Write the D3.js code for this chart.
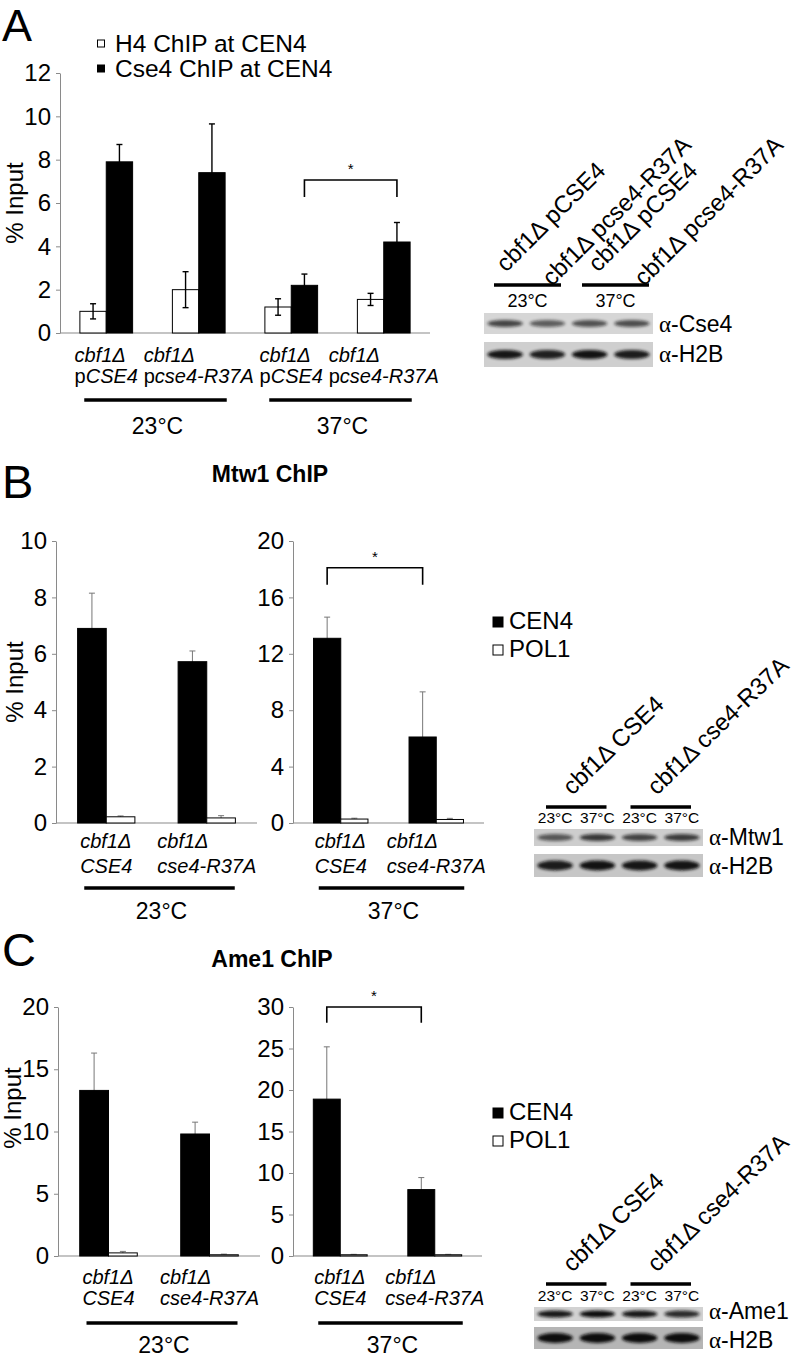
<!DOCTYPE html>
<html>
<head>
<meta charset="utf-8">
<script src="https://cdn.jsdelivr.net/npm/d3@7"></script>
<style>
  body { margin: 0; background: #fff; }
  svg text { font-family: "Liberation Sans", Arial, sans-serif; fill: #000; }
</style>
</head>
<body>
<svg id="fig" width="797" height="1360"></svg>
<script>
// ---- Panel A: H4 / Cse4 ChIP at CEN4 ----
const aGroups = ['pCSE4-23', 'pcse4-R37A-23', 'pCSE4-37', 'pcse4-R37A-37'];
const aLine2 = [['p', 'CSE4'], ['p', 'cse4-R37A'], ['p', 'CSE4'], ['p', 'cse4-R37A']];
const aH4 = [1.0, 2.0, 1.2, 1.55];
const aH4Err = [0.35, 0.83, 0.38, 0.28];
const aCse4 = [7.9, 7.4, 2.2, 4.2];
const aCse4Err = [0.8, 2.25, 0.52, 0.9];
const aTicks = [0, 2, 4, 6, 8, 10, 12];
const aLegend = ['H4 ChIP at CEN4', 'Cse4 ChIP at CEN4'];
const aBlotLabels = ['cbf1Δ pCSE4', 'cbf1Δ pcse4-R37A', 'cbf1Δ pCSE4', 'cbf1Δ pcse4-R37A'];
const aBlotCse4 = [0.72, 0.6, 0.66, 0.68];
const aBlotH2B = [0.95, 0.9, 0.97, 0.92];

// ---- Panel B: Mtw1 ChIP ----
const bGroups = ['CSE4', 'cse4-R37A'];
const bCen4At23 = [6.9, 5.72];
const bCen4At23Err = [1.25, 0.38];
const bPol1At23 = [0.22, 0.18];
const bPol1At23Err = [0.03, 0.08];
const bCen4At37 = [13.1, 6.1];
const bCen4At37Err = [1.5, 3.2];
const bPol1At37 = [0.28, 0.25];
const bPol1At37Err = [0.06, 0.08];
const bTicks23 = [0, 2, 4, 6, 8, 10];
const bTicks37 = [0, 4, 8, 12, 16, 20];
const bBlotMtw1 = [0.62, 0.78, 0.72, 0.76];
const bBlotH2B = [0.92, 0.97, 0.95, 0.96];

// ---- Panel C: Ame1 ChIP ----
const cCen4At23 = [13.3, 9.8];
const cCen4At23Err = [3.0, 0.95];
const cPol1At23 = [0.25, 0.1];
const cPol1At23Err = [0.12, 0.05];
const cCen4At37 = [18.9, 8.0];
const cCen4At37Err = [6.3, 1.45];
const cPol1At37 = [0.15, 0.15];
const cPol1At37Err = [0.05, 0.05];
const cTicks23 = [0, 5, 10, 15, 20];
const cTicks37 = [0, 5, 10, 15, 20, 25, 30];
const cBlotAme1 = [0.95, 1.0, 0.95, 0.85];
const cBlotH2B = [1.0, 1.0, 1.0, 1.0];

const bcLine2 = ['CSE4', 'cse4-R37A'];
const bcBlotLabels = ['cbf1Δ CSE4', 'cbf1Δ cse4-R37A'];
const blotTemps = ['23°C', '37°C', '23°C', '37°C'];
const bcLegend = ['CEN4', 'POL1'];

const svg = d3.select('#fig');

// blur for western blot bands
const defs = svg.append('defs');
defs.append('filter').attr('id', 'blur').attr('x', '-50%').attr('y', '-100%').attr('width', '200%').attr('height', '300%')
  .append('feGaussianBlur').attr('stdDeviation', 1.8);

// text helper: parts = [[text, italic, family], ...]
function addText(g, x, y, parts, o = {}) {
  const t = g.append('text')
    .attr('x', x).attr('y', y)
    .attr('font-size', o.size || 20)
    .attr('text-anchor', o.anchor || 'start');
  if (o.weight) t.attr('font-weight', o.weight);
  if (o.transform) t.attr('transform', o.transform);
  parts.forEach(p => {
    const s = t.append('tspan').text(p[0]);
    if (p[1]) s.attr('font-style', 'italic');
    if (p[2]) s.attr('font-family', p[2]);
  });
  return t;
}

function barChart(g, o) {
  const x = d3.scaleBand().domain(o.groups).range([o.left, o.right])
    .paddingInner(0.43).paddingOuter(0.215);
  const y = d3.scaleLinear().domain([0, o.max]).range([o.bottom, o.top]);
  const sub = d3.scaleBand().domain(d3.range(o.series.length)).range([0, x.bandwidth()]);

  const ay = g.append('g')
    .attr('transform', `translate(${o.left},0)`)
    .call(d3.axisLeft(y).tickValues(o.ticks).tickSize(4).tickSizeOuter(0).tickPadding(5).tickFormat(d3.format('d')));
  ay.select('.domain').attr('stroke', '#8a8a8a');
  ay.selectAll('.tick line').attr('stroke', '#8a8a8a');
  ay.selectAll('.tick text').attr('font-size', 24).attr('font-family', '"Liberation Sans", Arial, sans-serif').attr('fill', '#000');

  g.append('line')
    .attr('x1', o.left).attr('x2', o.right)
    .attr('y1', y(0)).attr('y2', y(0))
    .attr('stroke', '#8a8a8a').attr('stroke-width', 1.2);

  const errG = g.append('g');
  const barG = g.append('g');
  if (!o.errBehind) errG.raise();

  o.series.forEach((s, si) => {
    s.values.forEach((v, i) => {
      const cx = x(o.groups[i]) + sub(si);
      barG.append('rect')
        .attr('x', cx).attr('width', sub.bandwidth())
        .attr('y', y(v)).attr('height', y(0) - y(v))
        .attr('fill', s.fill).attr('stroke', '#000').attr('stroke-width', 1);
      const mx = cx + sub.bandwidth() / 2;
      const e = s.errors[i];
      const y1 = y(v + e), y2 = y(Math.max(0, v - e));
      errG.append('line').attr('x1', mx).attr('x2', mx).attr('y1', y1).attr('y2', y2)
        .attr('stroke', o.errColor).attr('stroke-width', o.errWidth);
      [y1, y2].forEach(yy => errG.append('line')
        .attr('x1', mx - 3).attr('x2', mx + 3).attr('y1', yy).attr('y2', yy)
        .attr('stroke', o.errColor).attr('stroke-width', o.errWidth));
    });
  });

  // category labels, two lines, left-aligned block centred on the group
  o.groups.forEach((gr, i) => {
    const cxm = x(gr) + x.bandwidth() / 2;
    const l2 = addText(g, 0, o.lab2, o.line2[i], { size: 20 });
    const w = l2.node().getComputedTextLength();
    const x0 = cxm - w / 2;
    l2.attr('x', x0);
    addText(g, x0, o.lab1, [['cbf1Δ', true]], { size: 20 });
  });

  // temperature bars
  o.temps.forEach(t => {
    const xa = x(o.groups[t.from]) + x.bandwidth() / 2 - 22;
    const xb = x(o.groups[t.to]) + x.bandwidth() / 2 + 28;
    g.append('line').attr('x1', xa).attr('x2', xb).attr('y1', o.lineY).attr('y2', o.lineY)
      .attr('stroke', '#000').attr('stroke-width', 3.5);
    addText(g, (xa + xb) / 2 + 2, o.tempY, [[t.label]], { size: 23, anchor: 'middle' });
  });

  // significance bracket between the black bars
  if (o.bracket) {
    const bi = o.bracket.series;
    const xa = x(o.groups[o.bracket.from]) + sub(bi) + sub.bandwidth() / 2;
    const xb = x(o.groups[o.bracket.to]) + sub(bi) + sub.bandwidth() / 2;
    const yt = y(o.bracket.top), yl = y(o.bracket.leg);
    g.append('path')
      .attr('d', `M${xa},${yl}V${yt}H${xb}V${yl}`)
      .attr('fill', 'none').attr('stroke', '#000').attr('stroke-width', 1.6);
    addText(g, (xa + xb) / 2, yt - 6, [['*']], { size: 15, anchor: 'middle' }).attr('fill', '#555');
  }

  // y axis title
  if (o.titleX != null) {
    addText(g, 0, 0, [['% Input']], {
      size: 24, anchor: 'middle',
      transform: `translate(${o.titleX},${o.titleY != null ? o.titleY : (o.top + o.bottom) / 2}) rotate(-90)`
    });
  }
  return { x, y };
}

function blot(g, o) {
  const lane = d3.scaleBand().domain(d3.range(4)).range([o.x0, o.x1]);
  o.strips.forEach((s, k) => {
    const id = `clip-${o.id}-${k}`;
    defs.append('clipPath').attr('id', id).append('rect')
      .attr('x', o.x0).attr('y', s.y0).attr('width', o.x1 - o.x0).attr('height', s.y1 - s.y0);
    g.append('rect').attr('x', o.x0).attr('y', s.y0)
      .attr('width', o.x1 - o.x0).attr('height', s.y1 - s.y0).attr('fill', s.bg);
    const bg = g.append('g').attr('clip-path', `url(#${id})`);
    s.vals.forEach((v, i) => {
      bg.append('ellipse')
        .attr('cx', lane(i) + lane.bandwidth() / 2)
        .attr('cy', (s.y0 + s.y1) / 2)
        .attr('rx', lane.bandwidth() * 0.42).attr('ry', s.ry)
        .attr('fill', '#111').attr('opacity', v)
        .attr('filter', 'url(#blur)');
    });
    addText(g, o.x1 + 6, s.labelY, [['α', false, '"Liberation Serif", serif'], ['-' + s.name]], { size: 23 });
  });
}

// ================= Panel A =================
const gA = svg.append('g');
addText(gA, 2, 41, [['A']], { size: 45 });
barChart(gA, {
  groups: aGroups, left: 60, right: 430, top: 73, bottom: 333, max: 12, ticks: aTicks,
  series: [
    { values: aH4, errors: aH4Err, fill: '#fff' },
    { values: aCse4, errors: aCse4Err, fill: '#000' }
  ],
  errColor: '#000', errWidth: 1.4, errBehind: false,
  line2: aLine2.map(p => [[p[0], false], [p[1], true]]),
  lab1: 362, lab2: 383, lineY: 400, tempY: 434,
  temps: [{ from: 0, to: 1, label: '23°C' }, { from: 2, to: 3, label: '37°C' }],
  bracket: { series: 1, from: 2, to: 3, top: 7.06, leg: 6.28 },
  titleX: 23
});
// legend A
aLegend.forEach((t, i) => {
  gA.append('rect').attr('x', 97.5).attr('y', 40 + i * 25).attr('width', 7).attr('height', 7)
    .attr('fill', i === 0 ? '#fff' : '#000').attr('stroke', '#000').attr('stroke-width', 1);
  addText(gA, 115, 52 + i * 25, [[t]], { size: 24.5 });
});
// blot A
const blotA = gA.append('g');
blot(blotA, {
  id: 'a', x0: 484, x1: 653,
  strips: [
    { y0: 313, y1: 334, bg: '#d6d6d6', vals: aBlotCse4, ry: 3.5, name: 'Cse4', labelY: 332 },
    { y0: 342, y1: 367, bg: '#cfcfcf', vals: aBlotH2B, ry: 4.5, name: 'H2B', labelY: 362 }
  ]
});
[[494, 561, '23°C'], [582, 649, '37°C']].forEach(d => {
  blotA.append('line').attr('x1', d[0]).attr('x2', d[1]).attr('y1', 285).attr('y2', 285)
    .attr('stroke', '#000').attr('stroke-width', 3.5);
  addText(blotA, (d[0] + d[1]) / 2, 307, [[d[2]]], { size: 18, anchor: 'middle' });
});
// rotated strain labels, staggered
aBlotLabels.forEach((lb, i) => {
  const ax = 506 + i * 46;
  const ay = i % 2 === 0 ? 273 : 287;
  addText(blotA, 0, 0, [[lb]], {
    size: 24, transform: `translate(${ax},${ay}) rotate(-45)`
  });
});

// ================= Panel B =================
const gB = svg.append('g');
addText(gB, 2, 498, [['B']], { size: 47 });
addText(gB, 270, 482, [['Mtw1 ChIP']], { size: 23, anchor: 'middle', weight: 'bold' });
barChart(gB, {
  groups: bGroups, left: 56, right: 257, top: 541, bottom: 823, max: 10, ticks: bTicks23,
  series: [
    { values: bCen4At23, errors: bCen4At23Err, fill: '#000' },
    { values: bPol1At23, errors: bPol1At23Err, fill: '#fff' }
  ],
  errColor: '#777', errWidth: 1, errBehind: true,
  line2: bcLine2.map(l => [[l, true]]),
  lab1: 848, lab2: 873, lineY: 888, tempY: 919,
  temps: [{ from: 0, to: 1, label: '23°C' }],
  titleX: 23
});
barChart(gB, {
  groups: bGroups, left: 293, right: 484, top: 541, bottom: 823, max: 20, ticks: bTicks37,
  series: [
    { values: bCen4At37, errors: bCen4At37Err, fill: '#000' },
    { values: bPol1At37, errors: bPol1At37Err, fill: '#fff' }
  ],
  errColor: '#777', errWidth: 1, errBehind: true,
  line2: bcLine2.map(l => [[l, true]]),
  lab1: 848, lab2: 873, lineY: 888, tempY: 919,
  temps: [{ from: 0, to: 1, label: '37°C' }],
  bracket: { series: 0, from: 0, to: 1, top: 18.1, leg: 16.9 }
});

// ================= Panel C =================
const gC = svg.append('g');
addText(gC, 2, 966, [['C']], { size: 47 });
addText(gC, 272, 967, [['Ame1 ChIP']], { size: 23, anchor: 'middle', weight: 'bold' });
barChart(gC, {
  groups: bGroups, left: 58, right: 260, top: 1007, bottom: 1256, max: 20, ticks: cTicks23,
  series: [
    { values: cCen4At23, errors: cCen4At23Err, fill: '#000' },
    { values: cPol1At23, errors: cPol1At23Err, fill: '#fff' }
  ],
  errColor: '#777', errWidth: 1, errBehind: true,
  line2: bcLine2.map(l => [[l, true]]),
  lab1: 1284, lab2: 1305, lineY: 1323, tempY: 1353,
  temps: [{ from: 0, to: 1, label: '23°C' }],
  titleX: 21, titleY: 1108
});
barChart(gC, {
  groups: bGroups, left: 293, right: 482, top: 1007, bottom: 1256, max: 30, ticks: cTicks37,
  series: [
    { values: cCen4At37, errors: cCen4At37Err, fill: '#000' },
    { values: cPol1At37, errors: cPol1At37Err, fill: '#fff' }
  ],
  errColor: '#777', errWidth: 1, errBehind: true,
  line2: bcLine2.map(l => [[l, true]]),
  lab1: 1284, lab2: 1305, lineY: 1323, tempY: 1353,
  temps: [{ from: 0, to: 1, label: '37°C' }],
  bracket: { series: 0, from: 0, to: 1, top: 30, leg: 28.1 }
});

// legends B and C
[[gB, 622], [gC, 1113]].forEach(([g, yc]) => {
  bcLegend.forEach((t, i) => {
    g.append('rect').attr('x', 493).attr('y', yc - 5 + i * 28).attr('width', 10).attr('height', 10)
      .attr('fill', i === 0 ? '#000' : '#fff').attr('stroke', '#000').attr('stroke-width', 1);
    addText(g, 509, yc + 7 + i * 28, [[t]], { size: 24 });
  });
});

// blots B and C (strain pairs, two temperatures each)
function pairBlot(g, o) {
  blot(g, o);
  const lane = d3.scaleBand().domain(d3.range(4)).range([o.x0, o.x1]);
  bcBlotLabels.forEach((lb, k) => {
    const xa = lane(2 * k) + 12, xb = lane(2 * k + 1) + lane.bandwidth() - 12;
    g.append('line').attr('x1', xa).attr('x2', xb).attr('y1', o.lineY).attr('y2', o.lineY)
      .attr('stroke', '#000').attr('stroke-width', 3.5);
    addText(g, 0, 0, [[lb]], {
      size: 24, transform: `translate(${(xa + xb) / 2 - 4},${o.lineY - 11}) rotate(-44)`
    });
  });
  blotTemps.forEach((t, i) => {
    addText(g, lane(i) + lane.bandwidth() / 2, o.tempY, [[t]], { size: 15.5, anchor: 'middle' });
  });
}
pairBlot(gB.append('g'), {
  id: 'b', x0: 534, x1: 703, lineY: 807, tempY: 823,
  strips: [
    { y0: 829, y1: 846, bg: '#cdcdcd', vals: bBlotMtw1, ry: 3.5, name: 'Mtw1', labelY: 845 },
    { y0: 854, y1: 877, bg: '#c6c6c6', vals: bBlotH2B, ry: 5, name: 'H2B', labelY: 874 }
  ]
});
pairBlot(gC.append('g'), {
  id: 'c', x0: 534, x1: 703, lineY: 1284, tempY: 1301,
  strips: [
    { y0: 1307, y1: 1321, bg: '#d2d2d2', vals: cBlotAme1, ry: 3.5, name: 'Ame1', labelY: 1319 },
    { y0: 1327, y1: 1349, bg: '#b5b5b5', vals: cBlotH2B, ry: 5, name: 'H2B', labelY: 1348 }
  ]
});
</script>
</body>
</html>
